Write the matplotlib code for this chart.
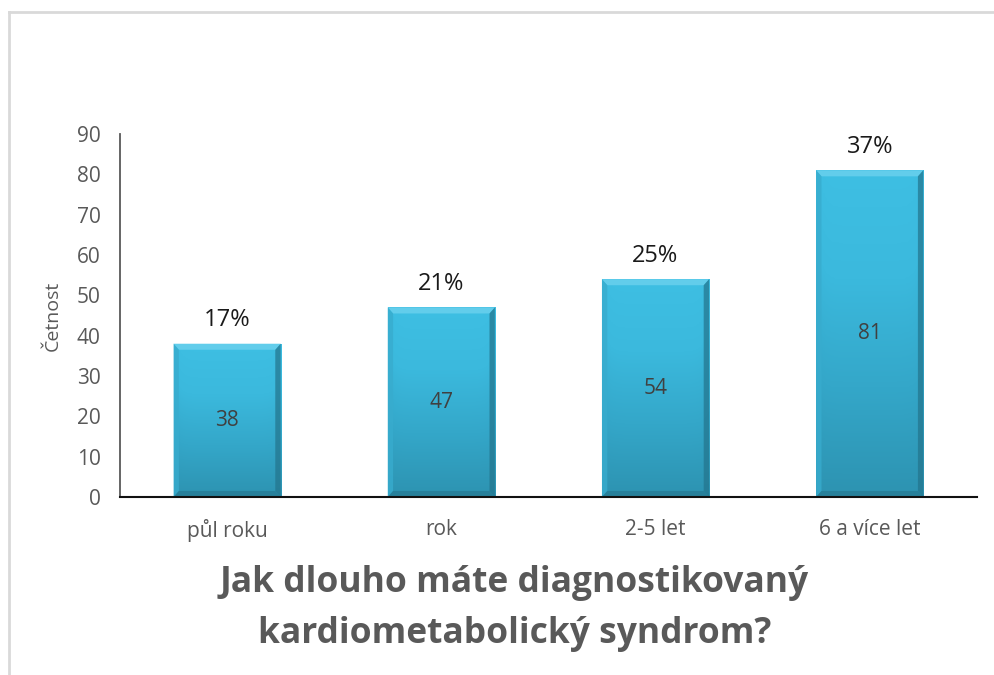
import numpy as np
import matplotlib
matplotlib.use("Agg")
import matplotlib.pyplot as plt
from matplotlib.colors import LinearSegmentedColormap
from matplotlib.patches import Polygon
from matplotlib.lines import Line2D

plt.rcParams['font.family'] = ['Open Sans', 'DejaVu Sans']

categories = ['půl roku', 'rok', '2-5 let', '6 a více let']
counts = [38, 47, 54, 81]
percents = [round(100 * c / sum(counts)) for c in counts]
yticks = list(range(0, 91, 10))

title_lines = ['Jak dlouho máte diagnostikovaný', 'kardiometabolický syndrom?']
ylabel = 'Četnost'

fig = plt.figure(figsize=(9.94, 6.75), dpi=100)
ax = fig.add_axes([0.1207, 0.2637, 0.862, 0.5378])

x = np.arange(len(categories))
bars = ax.bar(x, counts, width=0.5, color='#36AFD3', zorder=2)

ax.set_xlim(-0.5, len(categories) - 0.5)
ax.set_ylim(0, 90)
ax.set_yticks(yticks)
ax.set_xticks(x)
ax.set_xticklabels(categories)
ax.tick_params(axis='both', length=0, colors='#595959', labelsize=15)
ax.tick_params(axis='x', pad=16)
ax.tick_params(axis='y', pad=14)
for s in ['top', 'right']:
    ax.spines[s].set_visible(False)
ax.spines['left'].set_color('#595959')
ax.spines['left'].set_linewidth(1.3)
ax.spines['bottom'].set_color('#111111')
ax.spines['bottom'].set_linewidth(1.5)
ax.spines['bottom'].set_zorder(5)

ax.set_ylabel(ylabel, color='#595959', fontsize=14)
ax.yaxis.set_label_coords(-0.068, 0.5)

# gradient fill, like the excel bevel style
cmap = LinearSegmentedColormap.from_list('bar', ['#2D93B1', '#34A7C9', '#3BB9DD', '#3EBFE3'])
gy = np.linspace(0, 1, 200)[:, None]
gx = np.linspace(-1, 1, 60)[None, :]
grad = gy * (1 - 0.15 * gx ** 8)

for b in bars:
    bx, bw, bh = b.get_x(), b.get_width(), b.get_height()
    im = ax.imshow(grad, cmap=cmap, aspect='auto', origin='lower',
                   extent=[bx, bx + bw, 0, bh], zorder=3, vmin=0, vmax=1)
    im.set_clip_path(b)
    # bevel edges
    dx = bw * 0.05
    dy = 1.5
    ax.add_patch(Polygon([[bx, bh], [bx + bw, bh], [bx + bw - dx, bh - dy], [bx + dx, bh - dy]],
                         closed=True, color='#62CDEB', lw=0, zorder=4))
    ax.add_patch(Polygon([[bx, 0], [bx, bh], [bx + dx, bh - dy], [bx + dx, dy]],
                         closed=True, color='#38ACCE', alpha=0.8, lw=0, zorder=4))
    ax.add_patch(Polygon([[bx + bw, 0], [bx + bw, bh], [bx + bw - dx, bh - dy], [bx + bw - dx, dy]],
                         closed=True, color='#23748C', alpha=0.7, lw=0, zorder=4))
    ax.add_patch(Polygon([[bx, 0], [bx + bw, 0], [bx + bw - dx, dy], [bx + dx, dy]],
                         closed=True, color='#23748C', alpha=0.6, lw=0, zorder=4))

for i, b in enumerate(bars):
    cx = b.get_x() + b.get_width() / 2
    ax.text(cx, counts[i] / 2, str(counts[i]), ha='center', va='center',
            fontsize=15, color='#404040', zorder=6)
    ax.annotate(f'{percents[i]}%', (cx, counts[i]), xytext=(0, 17),
                textcoords='offset points', ha='center', va='center',
                fontsize=17, color='#1a1a1a', zorder=6)

fig.text(0.5176, 0.123, title_lines[0], ha='center', va='baseline', fontsize=25.5,
         fontweight='bold', color='#595959')
fig.text(0.5176, 0.0474, title_lines[1], ha='center', va='baseline', fontsize=25.5,
         fontweight='bold', color='#595959')

# light frame around the chart area
fig.add_artist(Line2D([0.009, 1.0], [0.982, 0.982], color='#D9D9D9', lw=2))
fig.add_artist(Line2D([0.0095, 0.0095], [0.0, 0.982], color='#D9D9D9', lw=2))

fig.savefig('out.png', dpi=100)
